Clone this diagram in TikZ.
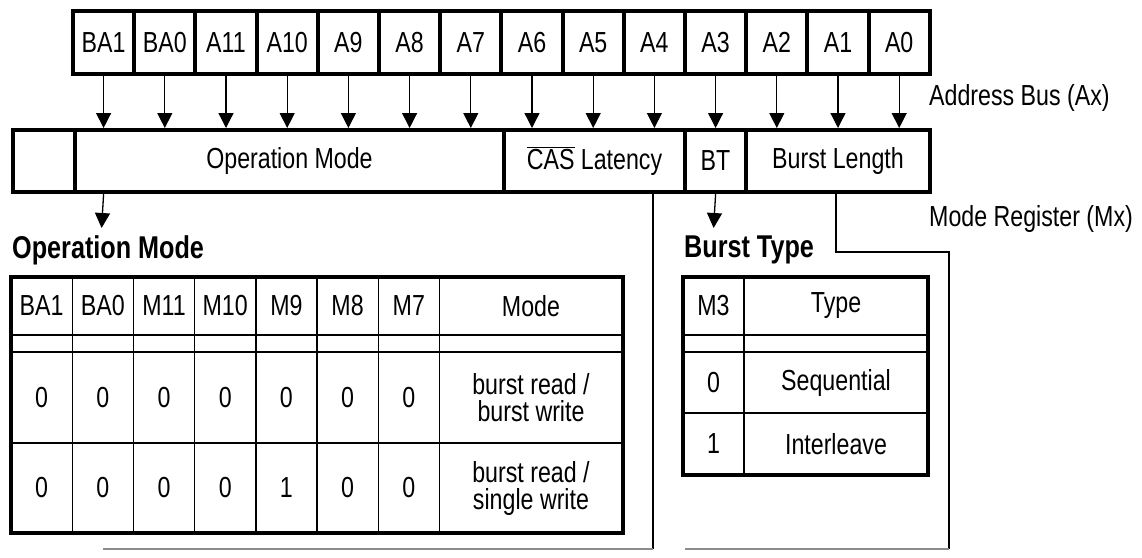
\documentclass[tikz,border=0pt]{standalone}
\usepackage{fontspec}
\setmainfont{Liberation Sans}[FakeStretch=0.8]
\usetikzlibrary{arrows.meta}

\tikzset{
  bitcell/.style={draw, line width=4pt, minimum width=61.2pt, minimum height=63pt, inner sep=0pt, anchor=north west},
  regcell/.style={draw, line width=4pt, minimum height=62pt, inner sep=0pt, anchor=north west},
  arr/.style={-{Triangle[width=15pt,length=15pt]}, line width=1.3pt},
  link/.style={line width=1.3pt},
  linkgray/.style={line width=1.3pt, draw=black!45},
  thinline/.style={line width=1.4pt},
  outer/.style={line width=4.5pt},
  title/.style={anchor=west, inner sep=0pt, font=\fontsize{31.5}{33}\selectfont\bfseries},
  label/.style={anchor=west, inner sep=0pt},
  twoline/.style={align=center, font=\fontsize{29}{27}\selectfont}
}

\begin{document}
\begin{tikzpicture}[x=1pt, y=-1pt, font=\fontsize{29}{31}\selectfont]
\useasboundingbox (0,0) rectangle (1142,557);

% address bus
\foreach \lab [count=\i from 0] in {BA1,BA0,A11,A10,A9,A8,A7,A6,A5,A4,A3,A2,A1,A0}
  \node[bitcell] (a\i) at ({71+61.2*\i},9) {\lab};
\node[label] (abus) at (929,98) {Address Bus (Ax)};

% mode register
\node[regcell, minimum width=62pt] (r0) at (11,128) {};
\node[regcell, minimum width=429pt] (rop) at (73,128) {Operation Mode};
\node[regcell, minimum width=181pt] (rcas) at (502,128) {$\overline{\mbox{CAS}}$ Latency};
\node[regcell, minimum width=61pt] (rbt) at (683,128) {BT};
\node[regcell, minimum width=184pt] (rbl) at (744,128) {Burst Length};
\node[label] (mreg) at (929,219) {Mode Register (Mx)};

\foreach \i in {0,...,13}
  \draw[arr] (a\i.south) -- (a\i.south |- rop.north);

% operation mode table
\coordinate (optip) at (101.6,228);
\draw[arr] (a0.south |- rop.south) -- (optip);
\node[title] (optitle) at (12,250) {Operation Mode};
\foreach \k in {1,...,7}
  \draw[thinline] ({11+61.2*\k},277) -- ({11+61.2*\k},533);
\foreach \yy in {335,352,443}
  \draw[thinline] (11,\yy) -- (623,\yy);
\draw[outer] (11,277) rectangle (623,533);
\foreach \lab [count=\i from 0] in {BA1,BA0,M11,M10,M9,M8,M7}
  \node (oh\i) at ({41.6+61.2*\i},306) {\lab};
\node (ohmode) at (531,306) {Mode};
\foreach \v [count=\i from 0] in {0,0,0,0,0,0,0}
  \node (oa\i) at ({41.6+61.2*\i},398) {\v};
\node[twoline] (oamode) at (531,398) {burst read /\\burst write};
\foreach \v [count=\i from 0] in {0,0,0,0,1,0,0}
  \node (ob\i) at ({41.6+61.2*\i},488) {\v};
\node[twoline] (obmode) at (531,488) {burst read /\\single write};

% burst type table
\coordinate (bttip) at (713.6,228);
\draw[arr] (a10.south |- rbt.south) -- (bttip);
\node[title] (bttitle) at (684,250) {Burst Type};
\draw[thinline] (744,277) -- (744,475);
\foreach \yy in {335,352,413}
  \draw[thinline] (683,\yy) -- (928,\yy);
\draw[outer] (683,277) rectangle (928,475);
\node (bhm) at (713.5,306) {M3};
\node (bht) at (836,306) {Type};
\node (bam) at (713.5,383) {0};
\node (bat) at (836,383) {Sequential};
\node (bbm) at (713.5,444) {1};
\node (bbt) at (836,444) {Interleave};

% leads to the next tables
\coordinate (casdrop) at (653,549);
\coordinate (casend) at (103,549);
\draw[link] (rcas.south -| casdrop) -- (casdrop);
\draw[linkgray] (casdrop) -- (casend);
\coordinate (blbend) at (836,252);
\coordinate (blcorner) at (949,252);
\coordinate (bldrop) at (949,549);
\coordinate (blend) at (685,549);
\draw[link] (rbl.south -| blbend) -- (blbend) -- (blcorner) -- (bldrop);
\draw[linkgray] (bldrop) -- (blend);
\end{tikzpicture}
\end{document}
